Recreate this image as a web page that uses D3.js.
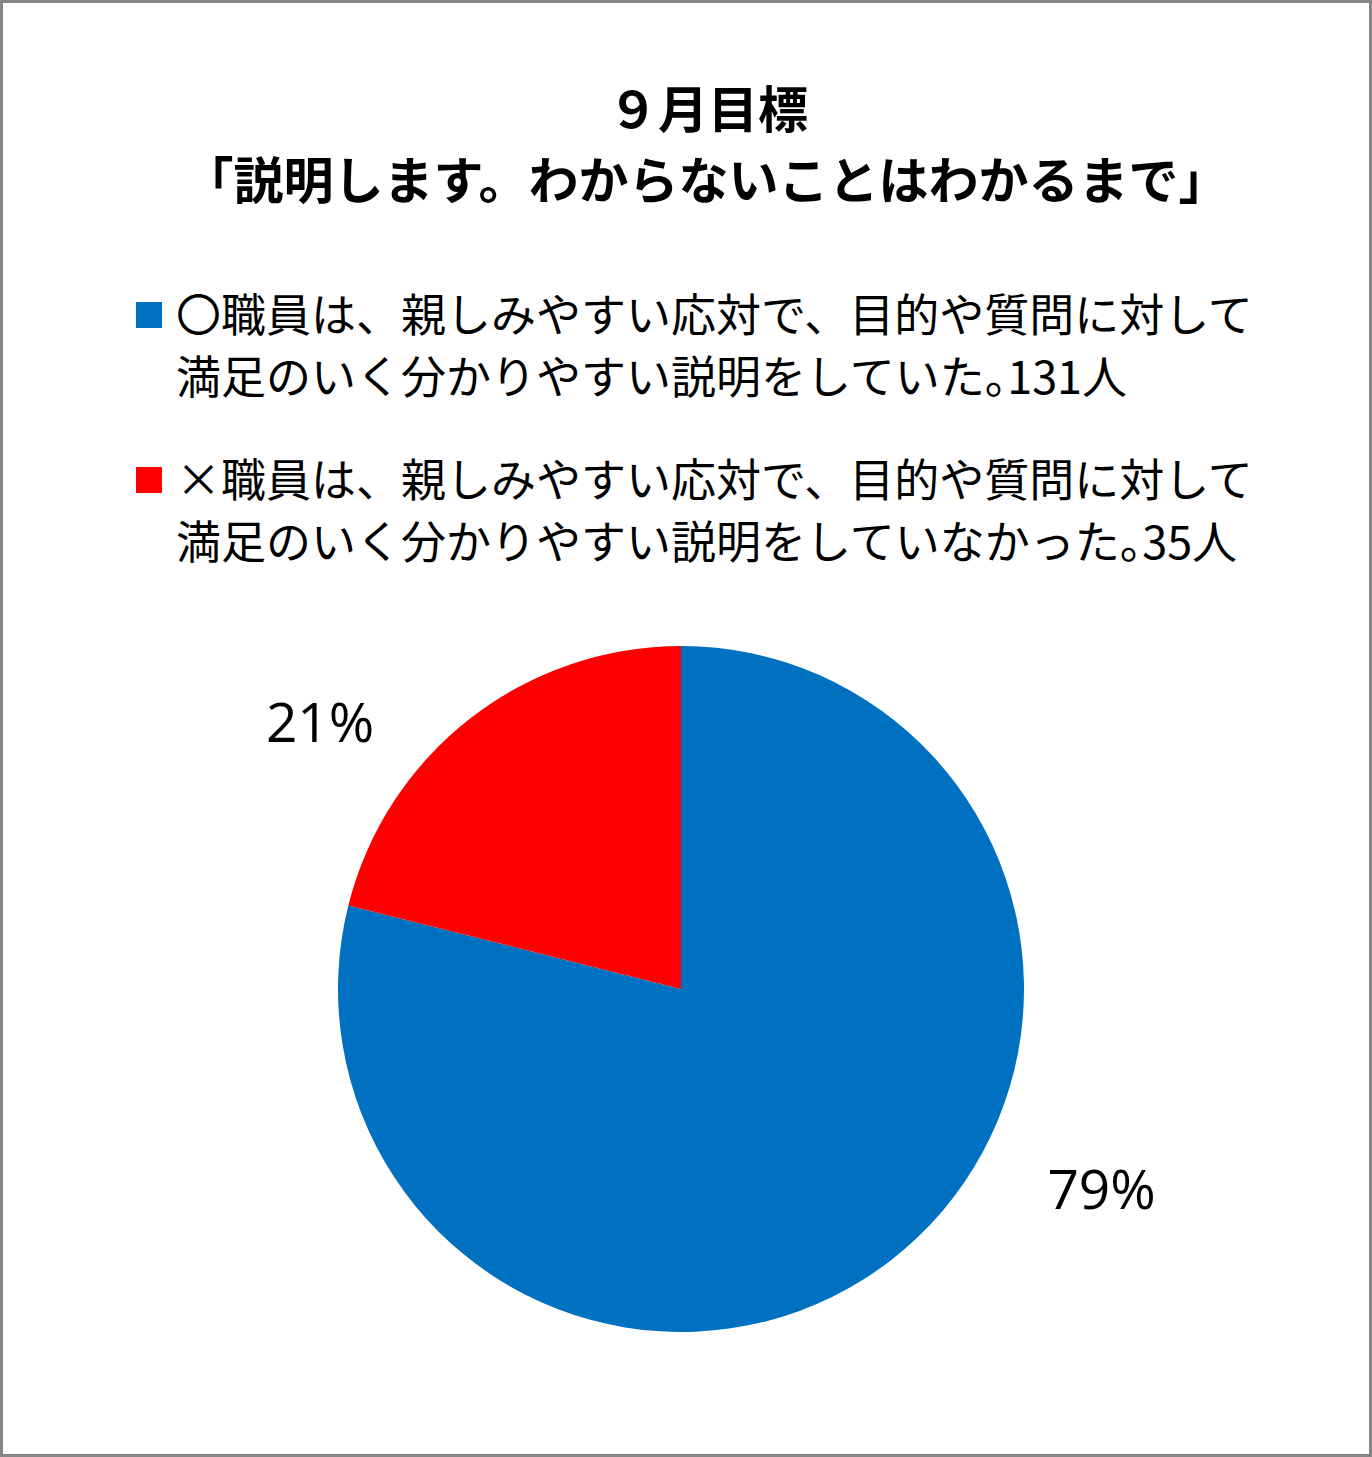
<!DOCTYPE html>
<html>
<head>
<meta charset="utf-8">
<script src="https://cdn.jsdelivr.net/npm/d3@7"></script>
<style>
  body { margin: 0; background: #fff; }
  svg { display: block; }
  .title { font-family: "Noto Sans CJK JP", sans-serif; font-weight: bold; fill: #000; }
  .legend text { font-family: "Noto Sans CJK JP", sans-serif; font-size: 45px; fill: #000; }
  .legend .half { font-feature-settings: "halt" 1; }
  .pct { font-family: "Open Sans", "Lato", sans-serif; font-size: 55px; fill: #000; }
</style>
</head>
<body>
<div id="chart-container"></div>
<script>
// data
var titleLines = ["９月目標", "「説明します。わからないことはわかるまで」"];
var categories = ["〇", "×"];
var counts = [131, 35];
var legendLines = [
  ["〇職員は、親しみやすい応対で、目的や質問に対して", "満足のいく分かりやすい説明をしていた。131人"],
  ["×職員は、親しみやすい応対で、目的や質問に対して", "満足のいく分かりやすい説明をしていなかった。35人"]
];
var colors = ["#0070C0", "#FF0000"];

var width = 1372,
    height = 1457;

var svg = d3.select("#chart-container")
  .append("svg")
    .attr("width", width)
    .attr("height", height);

// frame
svg.append("rect")
    .attr("x", 1.5)
    .attr("y", 1.5)
    .attr("width", width - 3)
    .attr("height", height - 3)
    .style("fill", "#fff")
    .style("stroke", "#868686")
    .style("stroke-width", 3);

// title
svg.append("text")
    .attr("class", "title")
    .attr("x", 708)
    .attr("y", 128)
    .attr("text-anchor", "middle")
    .style("font-size", "50px")
    .text(titleLines[0]);

svg.append("text")
    .attr("class", "title")
    .attr("x", 706)
    .attr("y", 199)
    .attr("text-anchor", "middle")
    .style("font-size", "50px")
    .text(titleLines[1]);

// legend
var legend = svg.append("g")
    .attr("class", "legend");

var item = legend.selectAll("g")
    .data(categories)
  .enter().append("g")
    .attr("transform", function(d, i) { return "translate(0," + (i * 165) + ")"; });

item.append("rect")
    .attr("x", 136)
    .attr("y", 302)
    .attr("width", 26)
    .attr("height", 26)
    .style("fill", function(d, i) { return colors[i]; });

item.each(function(d, i) {
  var lines = d3.select(this).selectAll("text")
      .data(legendLines[i])
    .enter().append("text")
      .attr("x", 176)
      .attr("y", function(t, j) { return 332 + j * 62; });

  // the 。 is set half width in the original
  lines.each(function(t) {
    var parts = t.split("。");
    var el = d3.select(this);
    el.append("tspan").text(parts[0]);
    if (parts.length > 1) {
      el.append("tspan").attr("class", "half").text("。");
      el.append("tspan").text(parts[1]);
    }
  });
});

// pie
var cx = 681, cy = 989, radius = 343;
var total = d3.sum(counts);

// blue starts at 12 o'clock clockwise, red fills the rest
var pie = d3.pie()
    .sort(null)
    .value(function(d) { return d; });

var arc = d3.arc()
    .innerRadius(0)
    .outerRadius(radius);

var pieG = svg.append("g")
    .attr("transform", "translate(" + cx + "," + cy + ")");

pieG.selectAll("path")
    .data(pie(counts))
  .enter().append("path")
    .attr("d", arc)
    .style("fill", function(d, i) { return colors[i]; });

// label placement (best fit, outside the pie) as angle in degrees / radius
var labelAngle = [115.5, -53.5],
    labelRadius = [466, 449];

pieG.selectAll(".pct")
    .data(counts)
  .enter().append("text")
    .attr("class", "pct")
    .attr("text-anchor", "middle")
    .attr("dy", "0.36em")
    .attr("transform", function(d, i) {
      var p = d3.pointRadial(labelAngle[i] * Math.PI / 180, labelRadius[i]);
      return "translate(" + p[0] + "," + p[1] + ")";
    })
    .text(function(d) { return Math.round(d / total * 100) + "%"; });
</script>
</body>
</html>
